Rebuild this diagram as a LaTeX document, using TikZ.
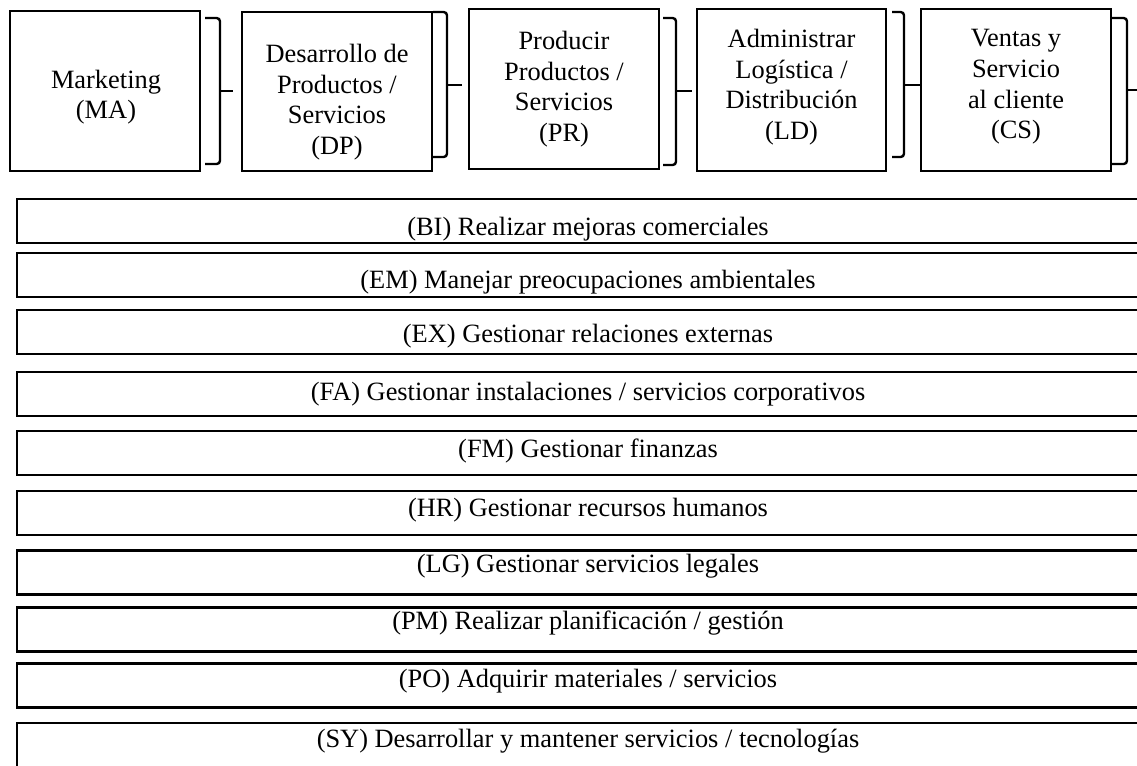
\documentclass[tikz,border=0pt]{standalone}
\usepackage{fontspec}
\setmainfont{Liberation Serif}
\begin{document}
\begin{tikzpicture}[x=0.75pt,y=-0.75pt,
  topbox/.style={draw, line width=1.9pt, inner sep=0pt, minimum width=142.5pt, minimum height=120pt},
  toptext/.style={align=center, inner sep=0pt, font=\fontsize{19.8pt}{23pt}\selectfont},
  bar/.style={draw, line width=1.6pt, inner sep=0pt, minimum width=857pt, minimum height=33pt},
  bartext/.style={inner sep=0pt, font=\fontsize{19.8pt}{23pt}\selectfont},
  brk/.style={draw, line width=1.8pt, rounded corners=2.5pt}]
\useasboundingbox (0,0) rectangle (1137,765);
\clip (0,0) rectangle (1137,765);
% top boxes
\node[topbox] (ma) at (105,91) {};
\node[topbox, minimum height=119.25pt] (dp) at (337,91.5) {};
\node[topbox] (pr) at (564,89) {};
\node[topbox, minimum width=141.75pt, minimum height=121.5pt] (ld) at (791.5,90) {};
\node[topbox, minimum height=121.5pt] (cs) at (1016,90) {};
\node[toptext] (tma) at (106,97) {Marketing\\(MA)};
\node[toptext] (tdp) at (337,102) {Desarrollo de\\Productos /\\Servicios\\(DP)};
\node[toptext] (tpr) at (564,89) {Producir\\Productos /\\Servicios\\(PR)};
\node[toptext] (tld) at (791.5,87) {Administrar\\Logística /\\Distribución\\(LD)};
\node[toptext] (tcs) at (1016,87) {Ventas y\\Servicio\\al cliente\\(CS)};
% brackets
\draw[brk] (205,18) -- (220,18) -- (220,164) -- (205,164);
\draw[brk] (220,91) -- (233,91);
\draw[brk] (433,12) -- (447,12) -- (447,157) -- (433,157);
\draw[brk] (447,85) -- (462,85);
\draw[brk] (663,18) -- (676,18) -- (676,165) -- (663,165);
\draw[brk] (676,91) -- (692,91);
\draw[brk] (892,12) -- (904,12) -- (904,157) -- (892,157);
\draw[brk] (904,85) -- (920,85);
\draw[brk] (1112,18) -- (1127,18) -- (1127,164) -- (1112,164);
\draw[brk] (1127,90) -- (1145,90);
% bars
\node[bar] (bi) at (588,221) {};
\node[bar] (em) at (588,275) {};
\node[bar] (ex) at (588,332) {};
\node[bar] (fa) at (588,394) {};
\node[bar] (fm) at (588,453) {};
\node[bar] (hr) at (588,513) {};
\node[bar] (lg) at (588,572.5) {};
\node[bar] (pm) at (588,629.5) {};
\node[bar] (po) at (588,685.5) {};
\node[bar] (sy) at (588,745) {};
\node[bartext] (tbi) at (588,229) {(BI) Realizar mejoras comerciales};
\node[bartext] (tem) at (588,282) {(EM) Manejar preocupaciones ambientales};
\node[bartext] (tex) at (588,336) {(EX) Gestionar relaciones externas};
\node[bartext] (tfa) at (588,394) {(FA) Gestionar instalaciones / servicios corporativos};
\node[bartext] (tfm) at (588,451) {(FM) Gestionar finanzas};
\node[bartext] (thr) at (588,510) {(HR) Gestionar recursos humanos};
\node[bartext] (tlg) at (588,566) {(LG) Gestionar servicios legales};
\node[bartext] (tpm) at (588,623) {(PM) Realizar planificación / gestión};
\node[bartext] (tpo) at (588,681) {(PO) Adquirir materiales / servicios};
\node[bartext] (tsy) at (588,741) {(SY) Desarrollar y mantener servicios / tecnologías};
\end{tikzpicture}
\end{document}
